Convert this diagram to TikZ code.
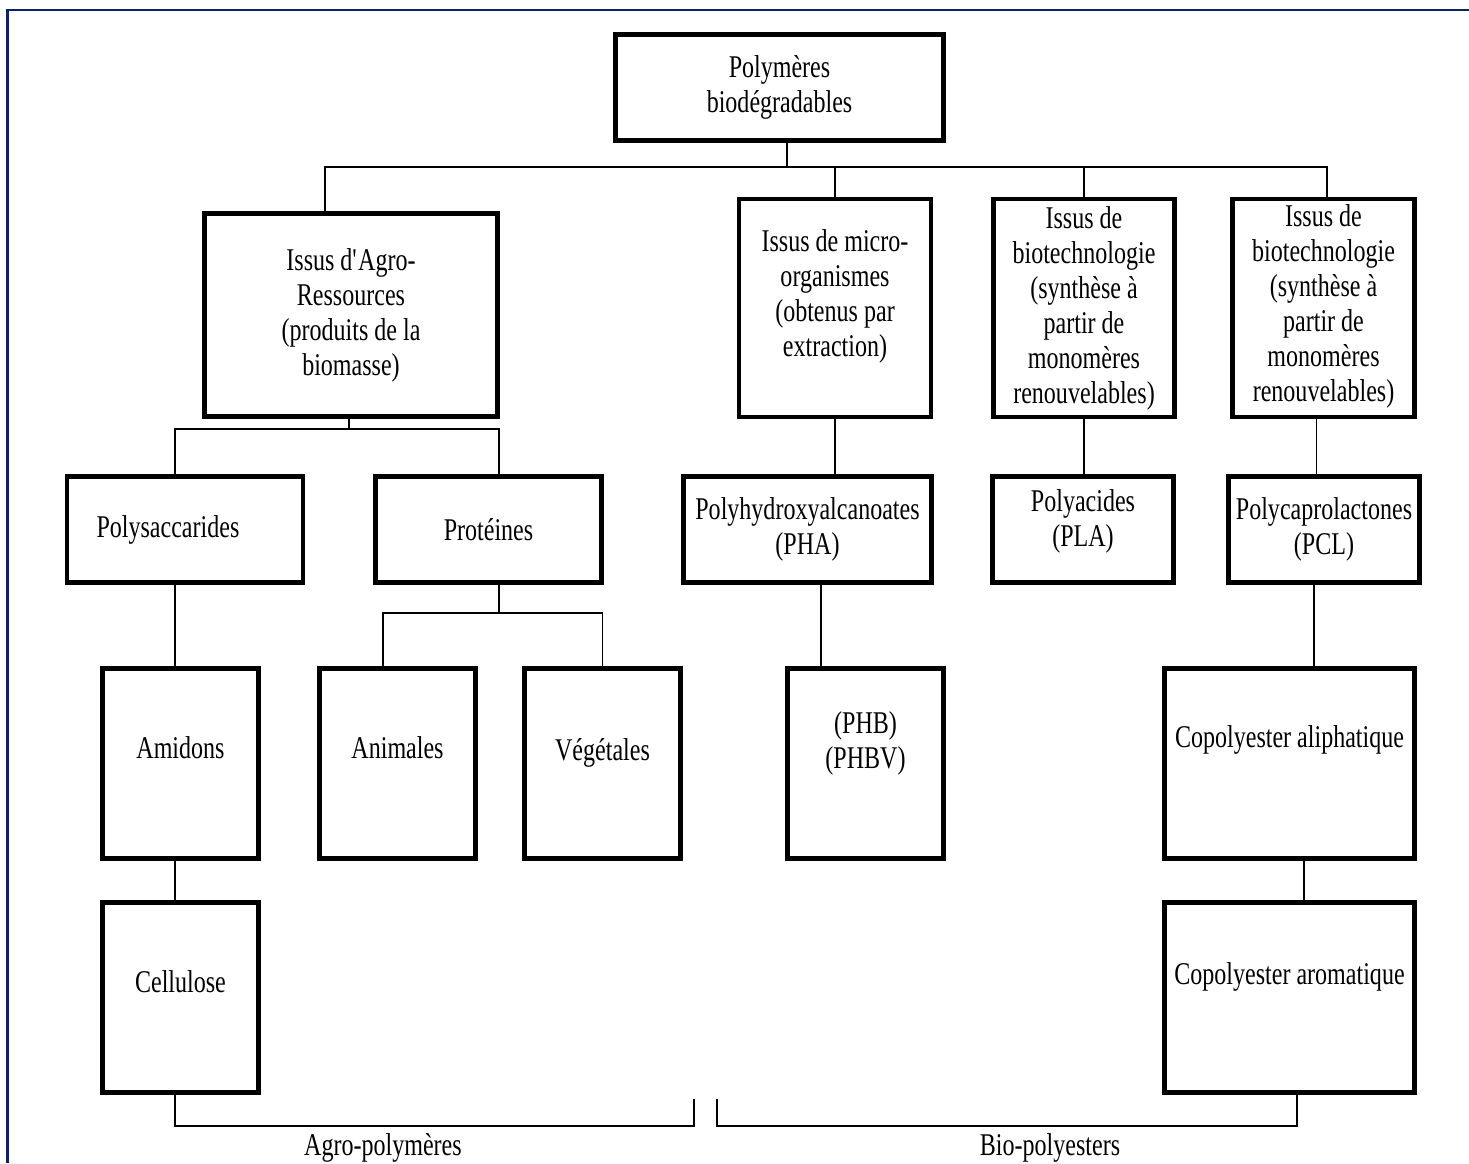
\documentclass[tikz,border=0pt]{standalone}
\usepackage{fontspec}
\setmainfont{Liberation Serif}[FakeStretch=0.76]
\definecolor{framenavy}{HTML}{0B2461}
\usetikzlibrary{positioning,calc}

\begin{document}
\begin{tikzpicture}[x=0.02cm,y=-0.02cm,
    box/.style={draw,line width=2.8pt,align=center,inner sep=1pt,
      font=\fontsize{18}{19.9}\selectfont},
    wide/.style={minimum width=#1cm},
    high/.style={minimum height=#1cm},
    lift/.style={text depth=#1cm},
    link/.style={line width=1.1pt},
    lbl/.style={font=\fontsize{18}{19.9}\selectfont}]
  \useasboundingbox (0,0) rectangle (1469,1163);
  \draw[framenavy,line width=1.7pt] (7.5,1163) -- (7.5,10) -- (1469,10);
  % root
  \node[box,wide=6.56,high=2.12] (root) at (779.5,87.5) {Polymères\\biodégradables};
  % sources
  \node[box,wide=5.86,high=4.06] (agro) at (351,315)
    {Issus d\textquotesingle Agro-\\Ressources\\(produits de la\\biomasse)};
  \node[box,wide=3.84,high=4.36,lift=0.59] (micro) at (835,308)
    {Issus de micro-\\organismes\\(obtenus par\\extraction)};
  \node[box,wide=3.62,high=4.36] (bio1) at (1084,308)
    {Issus de\\biotechnologie\\(synthèse à\\partir de\\monomères\\renouvelables)};
  \node[box,wide=3.64,high=4.36,lift=0.2] (bio2) at (1323.5,308)
    {Issus de\\biotechnologie\\(synthèse à\\partir de\\monomères\\renouvelables)};
  % families
  \node[box,high=2.12,text width=3.54cm,align=left,inner xsep=0.59cm] (polysac) at (185,529.5) {Polysaccarides};
  \node[box,wide=4.52,high=2.12] (prot) at (488.5,529.5) {Protéines};
  \node[box,wide=4.96,high=2.12] (pha) at (807.5,529.5) {Polyhydroxyalcanoates\\(PHA)};
  \node[box,wide=3.62,high=2.12,lift=0.47] (pla) at (1083,529.5) {Polyacides\\(PLA)};
  \node[box,wide=3.82,high=2.12] (pcl) at (1324,529.5) {Polycaprolactones\\(PCL)};
  % products
  \node[box,wide=3.12,high=3.8,lift=0.64] (amidons) at (180.5,763.5) {Amidons};
  \node[box,wide=3.12,high=3.8,lift=0.64] (animales) at (397.5,763.5) {Animales};
  \node[box,wide=3.12,high=3.8,lift=0.58] (vegetales) at (602.5,763.5) {Végétales};
  \node[box,wide=3.12,high=3.8,lift=0.95] (phb) at (865.5,763.5) {(PHB)\\(PHBV)};
  \node[box,wide=5.0,high=3.8,lift=1.06] (aliph) at (1289.5,763.5) {Copolyester aliphatique};
  \node[box,wide=3.12,high=3.8,lift=0.64] (cellulose) at (180.5,997.5) {Cellulose};
  \node[box,wide=5.0,high=3.8,lift=0.94] (arom) at (1289.5,997.5) {Copolyester aromatique};
  % group labels
  \node[lbl] (agro-lbl) at (383,1148) {Agro-polymères};
  \node[lbl] (bio-lbl) at (1050,1148) {Bio-polyesters};

  % tree
  \coordinate (top-bus) at (787,167);
  \draw[link] (root.south -| top-bus) -- (top-bus);
  \draw[link] ($(agro.north)+(-26,0)$) |- (top-bus);
  \draw[link] ($(bio2.north)+(3.5,0)$) |- (top-bus);
  \draw[link] (micro.north) |- (top-bus);
  \draw[link] (bio1.north) |- (top-bus);
  \coordinate (agro-bus) at (349,429);
  \draw[link] (agro.south -| agro-bus) -- (agro-bus);
  \draw[link] ($(polysac.north)+(-10,0)$) |- (agro-bus);
  \draw[link] ($(prot.north)+(10.5,0)$) |- (agro-bus);
  \draw[link] (micro.south) -- (micro.south |- pha.north);
  \draw[link] (bio1.south) -- (bio1.south |- pla.north);
  \draw[link] ($(bio2.south)+(-7,0)$) coordinate (bio2-s) -- (bio2-s |- pcl.north);
  \draw[link] ($(polysac.south)+(-10,0)$) coordinate (poly-s) -- (poly-s |- amidons.north);
  \coordinate (prot-bus) at (499,613);
  \draw[link] (prot.south -| prot-bus) -- (prot-bus);
  \draw[link] ($(animales.north)+(-14.5,0)$) |- (prot-bus);
  \draw[link] (vegetales.north) |- (prot-bus);
  \draw[link] ($(pha.south)+(13.5,0)$) coordinate (pha-s) -- (pha-s |- phb.north);
  \draw[link] ($(pcl.south)+(-10,0)$) coordinate (pcl-s) -- (pcl-s |- aliph.north);
  \draw[link] ($(amidons.south)+(-5.5,0)$) coordinate (ami-s) -- (ami-s |- cellulose.north);
  \draw[link] ($(aliph.south)+(14.5,0)$) coordinate (ali-s) -- (ali-s |- arom.north);
  % brackets
  \coordinate (agro-end) at (694,1099);
  \coordinate (bio-start) at (717,1099);
  \draw[link] ($(cellulose.south)+(-5.5,0)$) -- ++(0,31) -| (agro-end);
  \draw[link] (bio-start) -- ++(0,27) -| ($(arom.south)+(7.5,0)$);
\end{tikzpicture}
\end{document}
